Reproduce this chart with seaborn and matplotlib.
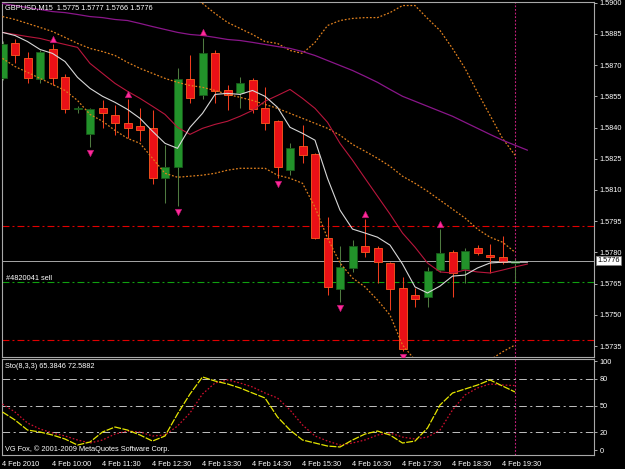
import numpy as np
import pandas as pd
import seaborn as sns
import matplotlib.pyplot as plt
from matplotlib.transforms import blended_transform_factory

# GBPUSD M15 candles, 4 Feb 2010 ##############################################

opens = [1.58640, 1.58808, 1.58736, 1.58635, 1.58779, 1.58645, 1.58487, 1.58367,
         1.58496, 1.58458, 1.58420, 1.58405, 1.58400, 1.58156, 1.58209, 1.58635,
         1.58554, 1.58760, 1.58578, 1.58564, 1.58626, 1.58496, 1.58429, 1.58194,
         1.58309, 1.58271, 1.57868, 1.57624, 1.57724, 1.57830, 1.57820, 1.57748,
         1.57628, 1.57595, 1.57585, 1.57715, 1.57801, 1.57719, 1.57820, 1.57787,
         1.57777, 1.5775]
highs = [1.58818, 1.58823, 1.58765, 1.58770, 1.58799, 1.58655, 1.58501, 1.58496,
         1.58530, 1.58506, 1.58535, 1.58496, 1.58482, 1.58314, 1.58688, 1.58746,
         1.58832, 1.58770, 1.58602, 1.58645, 1.58640, 1.58597, 1.58434, 1.58324,
         1.58410, 1.58276, 1.57969, 1.57830, 1.57859, 1.57959, 1.57830, 1.57753,
         1.57681, 1.57628, 1.57729, 1.57911, 1.57811, 1.57820, 1.57834, 1.57839,
         1.57878, 1.5777]
lows = [1.58626, 1.58712, 1.58612, 1.58612, 1.58602, 1.58468, 1.58472, 1.58305,
        1.58400, 1.58362, 1.58348, 1.58333, 1.58127, 1.58036, 1.58022, 1.58520,
        1.58535, 1.58520, 1.58482, 1.58492, 1.58472, 1.58386, 1.58156, 1.58170,
        1.58228, 1.57863, 1.57595, 1.57561, 1.57705, 1.57777, 1.57652, 1.57523,
        1.57326, 1.57537, 1.57537, 1.57705, 1.57585, 1.57652, 1.57787, 1.57700,
        1.57743, 1.5766]
closes = [1.58803, 1.58746, 1.58640, 1.58765, 1.58640, 1.58487, 1.58496, 1.58487,
          1.58468, 1.58420, 1.58400, 1.58386, 1.58156, 1.58209, 1.58635, 1.58544,
          1.58760, 1.58573, 1.58554, 1.58616, 1.58487, 1.58420, 1.58209, 1.58300,
          1.58266, 1.57868, 1.57633, 1.57729, 1.57830, 1.57801, 1.57753, 1.57624,
          1.57336, 1.57576, 1.57710, 1.57796, 1.57700, 1.57806, 1.57796, 1.57777,
          1.57753, 1.5776]

# moving averages (shifted one bar forward, so one value more)
ma_fast = [1.58857, 1.58842, 1.58813, 1.58775, 1.58756, 1.58717, 1.58641, 1.58588,
           1.58550, 1.58521, 1.58487, 1.58444, 1.58382, 1.58324, 1.58300, 1.58401,
           1.58468, 1.58559, 1.58564, 1.58559, 1.58578, 1.58550, 1.58497, 1.58401,
           1.58372, 1.58339, 1.58156, 1.58003, 1.57912, 1.57893, 1.57873, 1.57835,
           1.57744, 1.57634, 1.57605, 1.57638, 1.57686, 1.57691, 1.57725, 1.57749,
           1.57753, 1.57753, 1.57753]
ma_mid = [1.58857, 1.58847, 1.58837, 1.58828, 1.58813, 1.58799, 1.58785, 1.58708,
          1.58660, 1.58612, 1.58574, 1.58540, 1.58502, 1.58463, 1.58401, 1.58367,
          1.58396, 1.58415, 1.58430, 1.58454, 1.58482, 1.58526, 1.58554, 1.58583,
          1.58540, 1.58492, 1.58425, 1.58324, 1.58243, 1.58156, 1.58070, 1.57984,
          1.57893, 1.57825, 1.57749, 1.57706, 1.57701, 1.57715, 1.57706, 1.57701,
          1.57715, 1.57730, 1.57744]
ma_slow = [1.58996, 1.58986, 1.58976, 1.58967, 1.58957, 1.58952, 1.58943, 1.58933,
           1.58928, 1.58919, 1.58914, 1.58900, 1.58885, 1.58871, 1.58857, 1.58847,
           1.58842, 1.58833, 1.58823, 1.58818, 1.58809, 1.58799, 1.58789, 1.58780,
           1.58765, 1.58746, 1.58722, 1.58698, 1.58674, 1.58646, 1.58617, 1.58583,
           1.58550, 1.58526, 1.58502, 1.58478, 1.58454, 1.58425, 1.58396, 1.58367,
           1.58339, 1.58315, 1.58291]

# bollinger bands
bb_upper = [1.59135, 1.59144, 1.59135, 1.59125, 1.59116, 1.59087, 1.59077, 1.59096,
            1.59101, 1.59106, 1.59077, 1.59044, 1.59068, 1.59092, 1.59072, 1.59039,
            1.58996, 1.58948, 1.58905, 1.58876, 1.58847, 1.58813, 1.58804, 1.58770,
            1.58756, 1.58809, 1.58890, 1.58914, 1.58924, 1.58928, 1.58928, 1.58952,
            1.58986, 1.58986, 1.58924, 1.58866, 1.58780, 1.58684, 1.58569, 1.58459,
            1.58348, 1.58267]
bb_mid = [1.58933, 1.58919, 1.58900, 1.58881, 1.58861, 1.58833, 1.58804, 1.58780,
          1.58765, 1.58746, 1.58713, 1.58684, 1.58660, 1.58636, 1.58617, 1.58602,
          1.58593, 1.58578, 1.58559, 1.58545, 1.58530, 1.58511, 1.58492, 1.58468,
          1.58444, 1.58420, 1.58396, 1.58363, 1.58319, 1.58286, 1.58252, 1.58214,
          1.58166, 1.58132, 1.58094, 1.58051, 1.58008, 1.57965, 1.57912, 1.57873,
          1.57849, 1.57801]
bb_lower = [1.58732, 1.58693, 1.58665, 1.58636, 1.58607, 1.58578, 1.58530, 1.58463,
            1.58430, 1.58386, 1.58348, 1.58324, 1.58252, 1.58180, 1.58161, 1.58166,
            1.58171, 1.58180, 1.58195, 1.58204, 1.58204, 1.58204, 1.58171, 1.58156,
            1.58132, 1.58017, 1.57869, 1.57749, 1.57677, 1.57634, 1.57571, 1.57499,
            1.57355, 1.57283, 1.57255, 1.57235, 1.57235, 1.57245, 1.57260, 1.57283,
            1.57322, 1.57355]

fractal_up = [4, 10, 16, 29, 35]
fractal_down = [7, 14, 22, 27, 32]

# stochastic (8,3,3)
sto_k = [42.8, 33.8, 22.5, 20.3, 16.9, 12.4, 5.6, 9.0, 20.3, 25.9, 22.5, 16.9,
         10.1, 15.8, 40.6, 63.1, 82.3, 77.7, 74.4, 69.9, 64.2, 58.6, 37.2, 22.5,
         11.3, 7.9, 4.5, 3.4, 11.3, 18.0, 21.4, 16.9, 7.9, 10.1, 24.8, 50.7,
         64.2, 68.7, 73.2, 78.9, 72.1, 65.3846]
sto_d = [51.8, 42.8, 30.4, 23.7, 19.2, 15.8, 11.3, 7.9, 11.3, 18.0, 21.4, 20.3,
         15.8, 16.9, 27.0, 41.7, 63.1, 75.5, 78.9, 75.5, 71.0, 64.2, 58.6, 45.1,
         28.2, 15.8, 10.1, 5.6, 7.9, 11.3, 16.9, 19.2, 14.6, 12.4, 14.6, 22.5,
         45.1, 62.0, 69.9, 74.4, 73.2, 72.5882]
sto_levels = [20, 50, 80]

resistance = 1.57926
support = 1.57379
order_price = 1.57657
bid = 1.5776

price_ticks = [1.5900, 1.5885, 1.5870, 1.5855, 1.5840, 1.5825, 1.5810,
               1.5795, 1.5780, 1.5765, 1.5750, 1.5735]
sto_ticks = [0, 20, 50, 80, 100]
time_labels = ['4 Feb 2010', '4 Feb 10:00', '4 Feb 11:30', '4 Feb 12:30',
               '4 Feb 13:30', '4 Feb 14:30', '4 Feb 15:30', '4 Feb 16:30',
               '4 Feb 17:30', '4 Feb 18:30', '4 Feb 19:30']

# Styling #####################################################################

sns.set_style("dark", {"axes.facecolor": "black", "figure.facecolor": "black",
                       "axes.edgecolor": "#a8a8a8", "axes.grid": False,
                       "xtick.color": "#c8c8c8", "ytick.color": "#c8c8c8",
                       "text.color": "white"})
plt.rcParams['font.family'] = ['Liberation Sans', 'DejaVu Sans']
plt.rcParams['lines.scale_dashes'] = False
FS = 5.3

fig = plt.figure(figsize=(6.25, 4.69), dpi=100)
W, H = 625, 469
ax = fig.add_axes([2 / W, 1 - 357 / H, 592 / W, 355 / H])
ax2 = fig.add_axes([2 / W, 1 - 455 / H, 592 / W, 96 / H])

n = len(opens)
bars = np.arange(n)
o, h, l, c = map(np.array, (opens, highs, lows, closes))
up = c >= o

# candles
wick_col = np.where(up, '#4f7a40', '#f03c1e')
ax.vlines(bars, l, h, colors=wick_col, lw=0.75, zorder=2)
body_h = np.maximum(np.abs(c - o), 0.00005)
ax.bar(bars[up], body_h[up], bottom=np.minimum(o, c)[up], width=0.64,
       color='#22922a', edgecolor='#175a1a', linewidth=0.6, zorder=3)
ax.bar(bars[~up], body_h[~up], bottom=np.minimum(o, c)[~up], width=0.64,
       color='#ea1016', edgecolor='#ff5a20', linewidth=0.6, zorder=3)

# indicators
df_ma = pd.DataFrame({'bar': np.arange(len(ma_fast)), 'fast': ma_fast,
                      'mid': ma_mid, 'slow': ma_slow})
df_bb = pd.DataFrame({'bar': bars, 'upper': bb_upper, 'mid': bb_mid,
                      'lower': bb_lower})
dots = (0, (1.3, 1.3))
for col in ['upper', 'mid', 'lower']:
    sns.lineplot(data=df_bb, x='bar', y=col, ax=ax, color='#e0801e',
                 linewidth=0.9, linestyle=dots, zorder=4)
sns.lineplot(data=df_ma, x='bar', y='slow', ax=ax, color='#8a168a',
             linewidth=0.9, zorder=4)
sns.lineplot(data=df_ma, x='bar', y='mid', ax=ax, color='#b8163c',
             linewidth=0.8, zorder=4)
sns.lineplot(data=df_ma, x='bar', y='fast', ax=ax, color='#d8d8d8',
             linewidth=0.8, zorder=4)

# fractals
ax.scatter(fractal_up, h[fractal_up] + 0.00025, marker='^', s=22,
           color='#ff2a9a', edgecolor='#b0106a', linewidth=0.4, zorder=6)
ax.scatter(fractal_down, l[fractal_down] - 0.00028, marker='v', s=22,
           color='#ff2a9a', edgecolor='#b0106a', linewidth=0.4, zorder=6)

# horizontal levels
dashdot = (0, (5, 2.2, 1.4, 2.2))
ax.axhline(resistance, color='#e00000', lw=0.8, ls=dashdot, zorder=1)
ax.axhline(support, color='#e00000', lw=0.8, ls=dashdot, zorder=1)
ax.axhline(order_price, color='#10a010', lw=0.8, ls=dashdot, zorder=1)
ax.axhline(bid, color='#a8a8a8', lw=0.7, zorder=1)
for a in (ax, ax2):
    a.axvline(n - 1, color='#c8207f', lw=0.8, ls=(0, (1.3, 1.3)), zorder=1)

# stochastic panel
df_sto = pd.DataFrame({'bar': bars, 'k': sto_k, 'd': sto_d})
for lv in sto_levels:
    ax2.axhline(lv, color='#c0c0c0', lw=0.7, ls=(0, (5.5, 2.5, 1.5, 2.5)), zorder=1)
sns.lineplot(data=df_sto, x='bar', y='d', ax=ax2, color='#d0102e',
             linewidth=0.9, linestyle=(0, (1.2, 1.4)), zorder=3)
sns.lineplot(data=df_sto, x='bar', y='k', ax=ax2, color='#e6e600',
             linewidth=0.9, linestyle=(0, (5, 1)), zorder=4)

# axes ########################################################################

x0, x1 = (2 - 2.5) / 12.5, (594 - 2.5) / 12.5
for a in (ax, ax2):
    a.set_xlim(x0, x1)
    a.set_xlabel('')
    a.set_ylabel('')
    a.yaxis.tick_right()
    a.tick_params(axis='y', length=2, width=0.6, pad=2, labelsize=FS,
                  labelcolor='white')
    for s in a.spines.values():
        s.set_linewidth(0.8)
        s.set_color('#a8a8a8')

ax.set_ylim(1.5900 - 355 / 20850, 1.59003)
ax.set_yticks(price_ticks)
ax.set_yticklabels([f'{p:.4f}' for p in price_ticks])
ax.set_xticks([])

ax2.set_ylim(-5.6, 102.5)
ax2.set_yticks(sto_ticks)
ax2.set_yticklabels([str(t) for t in sto_ticks])
ax2.set_xticks([4 * k - 0.04 for k in range(len(time_labels))])
ax2.set_xticklabels(time_labels, ha='left')
ax2.tick_params(axis='x', length=2.5, width=0.6, pad=1.5, labelsize=FS,
                labelcolor='white')

# current price box
tr = blended_transform_factory(ax.transAxes, ax.transData)
ax.text(1.006, bid, '1.5776', transform=tr, fontsize=FS, color='black',
        va='center', ha='left',
        bbox=dict(facecolor='white', edgecolor='#808080', pad=0.9, lw=0.5))

# texts
fig.text(5 / W, 1 - 7.5 / H, 'GBPUSD,M15  1.5775 1.5777 1.5766 1.5776',
         fontsize=FS, color='white', va='center', ha='left')
fig.text(6 / W, 1 - 278 / H, '#4820041 sell', fontsize=FS, color='white',
         va='center', ha='left')
fig.text(5 / W, 1 - 367 / H, 'Sto(8,3,3) 65.3846 72.5882', fontsize=FS,
         color='white', va='center', ha='left')
fig.text(5 / W, 1 - 449 / H, 'VG Fox, © 2001-2009 MetaQuotes Software Corp.',
         fontsize=FS, color='white', va='center', ha='left')

plt.savefig('out.png', dpi=100, facecolor='black')
